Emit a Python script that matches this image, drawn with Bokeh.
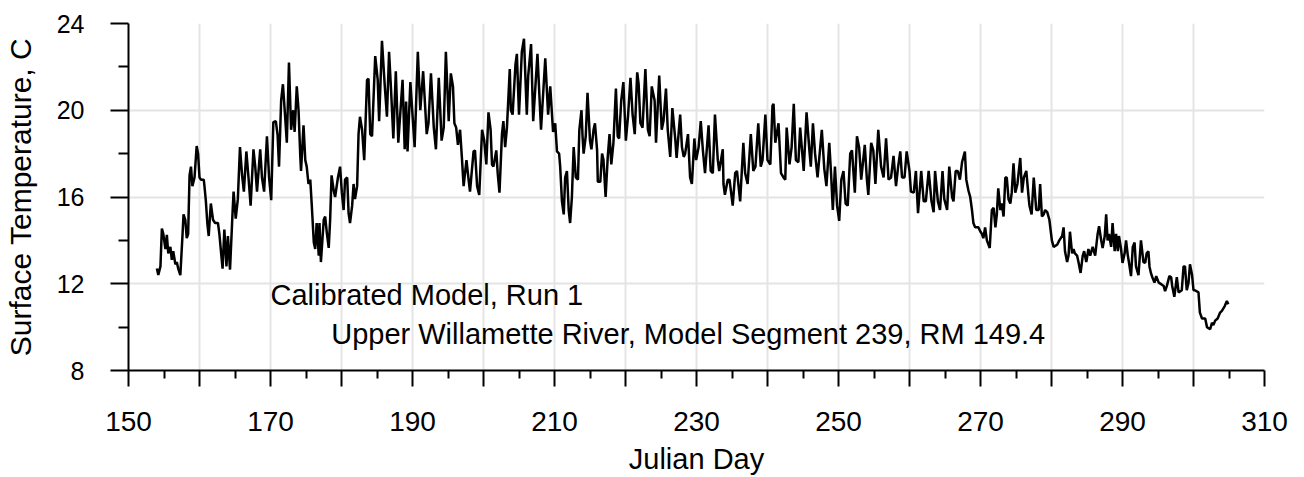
from bokeh.plotting import figure
from bokeh.models import Range1d, FixedTicker, Label
from bokeh.embed import file_html
from bokeh.resources import INLINE

FONT = "Liberation Sans"

# ---- data ----
julian_day = [
    154.0, 154.2, 154.5, 154.7, 154.9, 155.2, 155.4, 155.6, 155.9, 156.1,
    156.3, 156.6, 156.8, 157.0, 157.3, 157.6, 157.75, 158.0, 158.2, 158.4,
    158.6, 158.8, 159.0, 159.3, 159.6, 159.8, 160.0, 160.2, 160.6, 160.7,
    160.9, 161.1, 161.3, 161.5, 161.6, 161.9, 162.2, 162.6, 162.8, 163.05,
    163.25, 163.5, 163.8, 164.0, 164.3, 164.65, 164.8, 165.1, 165.4, 165.7,
    166.0, 166.25, 166.6, 166.9, 167.2, 167.6, 167.85, 168.1, 168.55, 168.8,
    169.1, 169.5, 169.8, 170.1, 170.4, 170.75, 171.0, 171.2, 171.5, 171.75,
    172.0, 172.3, 172.6, 172.9, 173.2, 173.4, 173.7, 173.95, 174.2, 174.3,
    174.65, 174.9, 175.1, 175.35, 175.6, 175.8, 176.1, 176.3, 176.5, 176.8,
    176.9, 177.1, 177.5, 177.7, 177.95, 178.2, 178.4, 178.6, 178.9, 179.1,
    179.5, 179.8, 180.05, 180.3, 180.5, 180.8, 181.0, 181.2, 181.5, 181.7,
    181.9, 182.2, 182.4, 182.6, 182.9, 183.2, 183.6, 183.8, 184.05, 184.3,
    184.75, 185.1, 185.3, 185.7, 186.1, 186.4, 186.7, 187.0, 187.3, 187.65,
    188.0, 188.6, 188.9, 189.1, 189.3, 189.7, 190.3, 190.75, 191.1, 191.5,
    192.0, 192.25, 192.6, 193.0, 193.3, 193.7, 194.1, 194.4, 194.7, 195.1,
    195.4, 195.7, 195.9, 196.15, 196.4, 196.7, 196.95, 197.2, 197.6, 197.9,
    198.1, 198.6, 198.8, 199.1, 199.4, 199.8, 200.1, 200.4, 200.7, 201.0,
    201.2, 201.4, 201.8, 202.0, 202.25, 202.6, 202.8, 203.05, 203.3, 203.7,
    203.85, 204.1, 204.5, 204.7, 205.0, 205.4, 205.7, 206.1, 206.3, 206.7,
    207.0, 207.6, 208.1, 208.7, 209.1, 209.4, 209.8, 210.1, 210.35, 210.65,
    210.8, 211.05, 211.3, 211.5, 211.75, 212.0, 212.2, 212.45, 212.7, 213.0,
    213.3, 213.5, 213.8, 213.95, 214.1, 214.4, 214.65, 215.0, 215.2, 215.5,
    215.7, 216.0, 216.1, 216.45, 216.7, 216.9, 217.2, 217.5, 217.75, 218.0,
    218.3, 218.65, 218.9, 219.1, 219.4, 219.7, 220.05, 220.35, 220.7, 221.0,
    221.3, 221.65, 221.85, 222.1, 222.4, 222.8, 223.15, 223.4, 223.7, 224.1,
    224.3, 224.75, 225.1, 225.35, 225.7, 225.95, 226.3, 226.6, 227.0, 227.2,
    227.7, 227.95, 228.2, 228.4, 228.8, 229.1, 229.35, 229.7, 229.95, 230.3,
    230.6, 230.9, 231.2, 231.7, 232.0, 232.3, 232.6, 233.0, 233.2, 233.7,
    233.8, 234.0, 234.4, 234.65, 235.1, 235.45, 235.7, 236.15, 236.6, 236.85,
    237.2, 237.65, 238.0, 238.3, 238.7, 239.05, 239.3, 239.7, 240.0, 240.4,
    240.7, 240.85, 241.1, 241.55, 241.9, 242.25, 242.5, 242.7, 243.1, 243.4,
    243.7, 244.0, 244.35, 244.6, 245.1, 245.5, 245.9, 246.1, 246.4, 246.7,
    247.05, 247.65, 248.0, 248.3, 248.7, 248.95, 249.2, 249.5, 249.8, 250.1,
    250.4, 250.7, 251.0, 251.3, 251.65, 251.9, 252.3, 252.6, 252.9, 253.2,
    253.7, 254.0, 254.2, 254.6, 254.9, 255.2, 255.6, 256.0, 256.35, 256.7,
    257.05, 257.4, 257.75, 258.1, 258.4, 258.7, 258.95, 259.3, 259.6, 260.0,
    260.2, 260.6, 260.9, 261.2, 261.65, 262.0, 262.3, 262.7, 263.1, 263.4,
    263.6, 264.0, 264.3, 264.65, 264.9, 265.3, 265.6, 266.0, 266.2, 266.5,
    266.8, 267.1, 267.4, 267.8, 268.0, 268.3, 268.55, 268.8, 269.0, 269.25,
    269.7, 270.0, 270.2, 270.4, 270.65, 270.9, 271.3, 271.6, 271.85, 272.1,
    272.3, 272.5, 272.8, 273.0, 273.25, 273.5, 273.7, 273.95, 274.2, 274.4,
    274.65, 274.9, 275.2, 275.6, 275.85, 276.1, 276.45, 276.8, 276.9, 277.2,
    277.5, 277.85, 278.2, 278.4, 278.65, 278.9, 279.1, 279.4, 279.7, 280.05,
    280.3, 280.8, 281.1, 281.5, 281.7, 281.9, 282.2, 282.4, 282.6, 282.9,
    283.1, 283.3, 283.6, 283.8, 284.1, 284.4, 284.6, 284.9, 285.2, 285.45,
    285.8, 286.15, 286.5, 286.7, 287.0, 287.2, 287.5, 287.7, 287.9, 288.1,
    288.4, 288.6, 288.9, 289.1, 289.35, 289.5, 289.8, 290.0, 290.3, 290.5,
    290.75, 290.9, 291.2, 291.45, 291.7, 291.9, 292.25, 292.6, 292.95, 293.2,
    293.4, 293.65, 293.8, 294.0, 294.2, 294.5, 294.75, 295.1, 295.5, 295.8,
    296.0, 296.25, 296.6, 296.85, 297.0, 297.3, 297.5, 297.65, 297.9, 298.35,
    298.6, 298.8, 299.05, 299.3, 299.5, 299.8, 300.0, 300.2, 300.7, 300.9,
    301.2, 301.65, 301.9, 302.35, 302.6, 302.8, 303.05, 303.4, 303.75, 304.0,
    304.4, 304.7, 304.9,
]
surface_temp = [
    12.7, 12.4, 12.8, 14.55, 14.3, 13.6, 14.25, 13.4, 13.7, 13.1,
    13.5, 12.9, 13.0, 12.7, 12.4, 14.2, 15.2, 14.95, 14.1, 14.3,
    17.0, 17.4, 16.5, 16.9, 18.35, 18.0, 16.9, 16.8, 16.8, 16.5,
    15.8, 14.8, 14.2, 15.25, 15.7, 14.95, 14.8, 14.8, 14.3, 13.4,
    12.7, 14.5, 12.8, 14.2, 12.65, 15.25, 16.25, 15.0, 15.9, 18.3,
    17.0, 16.25, 18.1, 16.9, 15.6, 18.2, 17.4, 16.25, 18.2, 16.9,
    16.25, 18.8, 16.9, 15.85, 19.45, 19.5, 18.85, 17.4, 20.45, 21.2,
    20.0, 18.5, 22.2, 19.1, 20.0, 19.0, 21.1, 20.0, 17.85, 17.2,
    19.3, 17.7, 17.4, 16.6, 16.8, 15.7, 13.9, 13.6, 14.8, 13.3,
    14.8, 13.0, 14.95, 15.1, 14.3, 13.65, 14.95, 17.0, 16.3, 16.0,
    16.9, 17.4, 16.2, 15.4, 16.8, 16.9, 15.25, 14.8, 15.6, 16.6,
    15.9, 16.5, 18.9, 19.7, 19.1, 17.7, 21.4, 21.45, 18.9, 18.8,
    22.5, 21.4, 19.5, 23.2, 21.1, 19.7, 22.7, 20.8, 18.7, 21.8,
    18.5, 21.4, 18.2, 20.4, 18.1, 21.3, 18.3, 22.7, 20.0, 21.8,
    18.9, 19.4, 21.7, 19.2, 18.2, 21.5, 18.6, 19.2, 22.7, 19.5,
    21.7, 21.1, 19.4, 19.2, 18.4, 19.1, 17.85, 16.5, 17.7, 16.8,
    16.25, 18.1, 18.15, 16.5, 16.1, 19.1, 18.6, 17.5, 19.9, 19.1,
    17.5, 17.4, 18.15, 17.1, 16.2, 18.9, 19.5, 18.3, 19.2, 21.9,
    20.0, 19.8, 22.1, 22.6, 19.8, 22.7, 23.3, 19.8, 21.6, 23.05,
    19.5, 22.6, 19.1, 22.4, 19.8, 21.1, 19.0, 19.4, 18.1, 18.0,
    17.4, 15.8, 15.2, 16.9, 17.2, 15.4, 14.8, 16.0, 18.3, 16.9,
    16.8, 19.1, 20.0, 18.8, 18.0, 18.8, 20.8, 18.6, 18.2, 19.1,
    19.4, 18.15, 16.7, 16.7, 18.0, 17.7, 16.0, 17.85, 18.9, 17.5,
    18.5, 21.0, 18.8, 18.7, 20.45, 21.3, 18.6, 19.7, 21.5, 19.8,
    18.9, 21.75, 21.2, 19.4, 19.2, 21.9, 19.1, 18.8, 21.1, 20.45,
    18.5, 21.6, 19.1, 19.5, 21.0, 19.1, 17.85, 20.1, 18.7, 17.8,
    19.8, 18.3, 17.85, 18.0, 18.9, 16.9, 16.6, 18.7, 17.7, 18.3,
    19.5, 18.15, 17.1, 19.3, 17.2, 17.1, 19.8, 17.7, 17.2, 18.2,
    16.6, 16.1, 16.8, 16.8, 15.6, 17.1, 17.2, 15.8, 18.5, 17.1,
    16.6, 18.9, 17.2, 17.4, 19.4, 17.4, 17.7, 19.8, 17.7, 17.5,
    20.2, 20.3, 18.5, 19.4, 17.1, 16.9, 16.8, 19.2, 17.5, 18.3,
    20.3, 17.7, 17.6, 19.2, 17.2, 19.9, 18.15, 17.4, 19.4, 18.0,
    16.9, 19.1, 17.3, 16.5, 18.5, 17.1, 15.4, 17.4, 15.6, 14.9,
    16.8, 17.2, 15.7, 15.6, 18.0, 18.15, 16.2, 18.8, 18.3, 16.8,
    18.4, 16.8, 16.1, 18.5, 18.15, 16.6, 19.1, 17.4, 16.9, 18.7,
    16.8, 16.9, 17.9, 16.5, 17.4, 18.1, 16.9, 16.9, 18.1, 17.2,
    16.25, 16.2, 17.2, 15.25, 17.2, 15.8, 15.8, 17.2, 15.8, 15.3,
    17.2, 15.8, 15.4, 17.2, 15.9, 15.4, 17.4, 16.0, 15.8, 17.2,
    17.2, 16.8, 17.6, 18.1, 16.8, 16.3, 16.0, 15.4, 14.8, 14.6,
    14.6, 14.4, 14.3, 14.1, 14.6, 14.0, 13.65, 15.4, 15.5, 14.6,
    15.2, 16.4, 15.4, 15.7, 15.1, 16.9, 16.9, 15.9, 15.7, 16.2,
    17.55, 16.2, 16.6, 17.8, 16.2, 16.9, 17.2, 15.9, 15.6, 15.2,
    16.9, 15.4, 15.4, 16.6, 15.1, 15.2, 15.4, 15.3, 14.95, 14.0,
    13.7, 13.8, 14.0, 14.2, 14.6, 13.5, 13.0, 13.3, 14.4, 13.4,
    13.6, 13.4, 13.3, 13.0, 12.5, 13.3, 13.5, 13.0, 13.6, 13.3,
    13.7, 13.3, 14.3, 14.65, 14.0, 13.65, 14.2, 15.2, 14.0, 14.3,
    13.7, 14.8, 13.5, 14.3, 13.5, 14.2, 13.6, 12.96, 13.4, 14.0,
    13.3, 13.0, 12.35, 13.7, 13.9, 12.8, 12.4, 14.0, 13.0, 12.96,
    13.4, 13.5, 12.8, 12.5, 12.3, 12.05, 12.35, 12.05, 11.97, 11.9,
    11.66, 11.9, 12.35, 12.3, 11.9, 11.4, 11.9, 12.3, 11.6, 11.7,
    12.8, 12.8, 11.7, 12.05, 12.9, 12.4, 11.7, 11.7, 11.6, 10.67,
    10.4, 10.4, 10.0, 9.9, 10.2, 10.1, 10.3, 10.4, 10.67, 10.75,
    10.97, 11.2, 11.05,
]

x_major = [150, 160, 170, 180, 190, 200, 210, 220, 230, 240, 250, 260, 270, 280, 290, 300, 310]
x_minor = [155, 165, 175, 185, 195, 205, 215, 225, 235, 245, 255, 265, 275, 285, 295, 305]
x_labelled = [150, 170, 190, 210, 230, 250, 270, 290, 310]
y_major = [8, 12, 16, 20, 24]
y_minor = [10, 14, 18, 22]

title_run = "Calibrated Model, Run 1"
title_site = "Upper Willamette River, Model Segment 239, RM 149.4"
x_title = "Julian Day"
y_title = "Surface Temperature, C"

p = figure(width=1304, height=477,
           x_range=Range1d(150, 310), y_range=Range1d(8, 24),
           output_backend="svg", toolbar_location=None,
           min_border_left=0, min_border_right=40,
           min_border_top=23, min_border_bottom=105)
p.outline_line_color = None
p.background_fill_color = "white"
p.border_fill_color = "white"

p.line(julian_day, surface_temp, line_color="black", line_width=2.5)

# axes
xa = p.xaxis[0]
xa.ticker = FixedTicker(ticks=x_major, minor_ticks=x_minor)
xa.major_label_overrides = {t: ("" if t not in x_labelled else str(t)) for t in x_major}
ya = p.yaxis[0]
ya.ticker = FixedTicker(ticks=y_major, minor_ticks=y_minor)

for ax in (xa, ya):
    ax.axis_line_color = "black"
    ax.axis_line_width = 2
    ax.major_tick_line_color = "black"
    ax.major_tick_line_width = 2
    ax.minor_tick_line_color = "black"
    ax.minor_tick_line_width = 2
    ax.major_tick_in = 0
    ax.minor_tick_in = 0
    ax.major_label_text_font = FONT
    ax.major_label_text_color = "black"
    ax.axis_label_text_font = FONT
    ax.axis_label_text_font_style = "normal"
    ax.axis_label_text_color = "black"

xa.major_tick_out = 16
xa.minor_tick_out = 8
xa.major_label_standoff = 25
xa.major_label_text_font_size = "28px"
xa.axis_label = x_title
xa.axis_label_text_font_size = "29px"
xa.axis_label_standoff = 9

# the left border is sized by the axis itself (tick + standoffs + texts = 128px)
ya.major_tick_out = 18
ya.minor_tick_out = 10
ya.major_label_standoff = 26
ya.major_label_text_font_size = "25px"
ya.axis_label = y_title
ya.axis_label_text_font_size = "30px"
ya.axis_label_standoff = 17

p.xgrid.grid_line_color = "#e4e4e4"
p.xgrid.grid_line_width = 2
p.ygrid.grid_line_color = "#e4e4e4"
p.ygrid.grid_line_width = 2

# annotations
p.add_layout(Label(x=170.0, y=11.48, text=title_run, text_font=FONT,
                   text_font_size="29px", text_color="black",
                   text_baseline="alphabetic", text_align="left"))
p.add_layout(Label(x=178.55, y=9.67, text=title_site, text_font=FONT,
                   text_font_size="29px", text_color="black",
                   text_baseline="alphabetic", text_align="left"))

open("out.html", "w").write(file_html(p, INLINE))
